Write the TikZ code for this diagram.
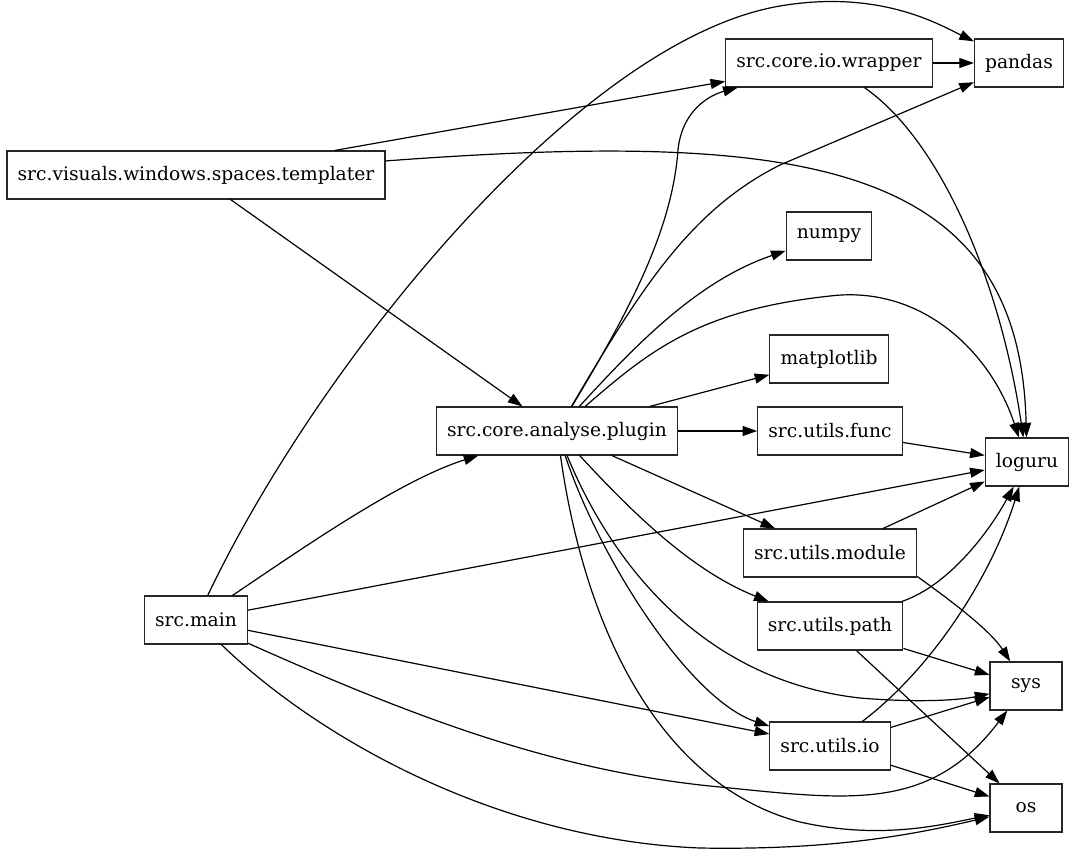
\documentclass[tikz,border=0pt]{standalone}
\usepackage{fontspec}
\setmainfont{DejaVu Serif}
\usetikzlibrary{arrows.meta}
\tikzset{
  dep/.style={-{Triangle[length=11pt,width=7.5pt]},black,line width=0.9pt},
  pkg/.style={draw=black!85,line width=0.8pt,fill=white,minimum height=36pt,
              minimum width=54pt,inner xsep=8pt,font=\fontsize{14}{17}\selectfont},
}
\begin{document}
\begin{tikzpicture}[x=0.75pt,y=-0.75pt]
    \useasboundingbox (0,0) rectangle (1077,854);
    % modules
    \node[pkg] (tmpl) at (196,175) {src.visuals.windows.spaces.templater};
    \node[pkg] (main) at (196,620) {src.main};
    \node[pkg] (plugin) at (557,431) {src.core.analyse.plugin};
    \node[pkg] (wrapper) at (829,63) {src.core.io.wrapper};
    \node[pkg] (numpy) at (829,236) {numpy};
    \node[pkg] (mpl) at (829,359) {matplotlib};
    \node[pkg] (ufunc) at (830,431) {src.utils.func};
    \node[pkg] (umodule) at (830,553) {src.utils.module};
    \node[pkg] (upath) at (830,626) {src.utils.path};
    \node[pkg] (uio) at (830,746) {src.utils.io};
    \node[pkg] (pandas) at (1019,63) {pandas};
    \node[pkg] (loguru) at (1027,462) {loguru};
    \node[pkg] (sys) at (1026,686) {sys};
    \node[pkg] (os) at (1026,808) {os};

    % templater
    \draw[dep] (tmpl) -- (wrapper);
    \draw[dep] (tmpl) .. controls (800,130) and (1020,160) .. (loguru);
    \draw[dep] (tmpl) -- (plugin);

    % main
    \draw[dep] (main) .. controls (320,360) and (580,40) .. (780,6)
      .. controls (880,-11) and (940,25) .. (pandas);
    \draw[dep] (main) .. controls (300,550) and (400,480) .. (plugin);
    \draw[dep] (main) -- (loguru);
    \draw[dep] (main) -- (uio);
    \draw[dep] (main) .. controls (420,720) and (560,772) .. (720,787)
      .. controls (850,800) and (930,812) .. (sys);
    \draw[dep] (main) .. controls (320,740) and (500,840) .. (700,848)
      .. controls (820,850) and (900,838) .. (os);

    % plugin
    \draw[dep] (plugin) .. controls (630,310) and (672,230) .. (678,150)
      .. controls (682,110) and (710,95) .. (wrapper);
    \draw[dep] (plugin) .. controls (640,290) and (690,210) .. (780,165) -- (pandas);
    \draw[dep] (plugin) .. controls (640,340) and (700,280) .. (numpy);
    \draw[dep] (plugin) .. controls (650,350) and (700,310) .. (830,296)
      .. controls (920,285) and (990,350) .. (loguru);
    \draw[dep] (plugin) -- (mpl);
    \draw[dep] (plugin) -- (ufunc);
    \draw[dep] (plugin) -- (umodule);
    \draw[dep] (plugin) .. controls (630,510) and (690,570) .. (upath);
    \draw[dep] (plugin) .. controls (610,560) and (700,680) .. (860,698)
      .. controls (920,703) and (960,700) .. (sys);
    \draw[dep] (plugin) .. controls (600,560) and (690,700) .. (uio);
    \draw[dep] (plugin) .. controls (585,630) and (660,785) .. (800,822)
      .. controls (880,840) and (940,825) .. (os);

    % utils
    \draw[dep] (wrapper) -- (pandas);
    \draw[dep] (wrapper) .. controls (940,140) and (1000,280) .. (loguru);
    \draw[dep] (ufunc) -- (loguru);
    \draw[dep] (umodule) -- (loguru);
    \draw[dep] (umodule.-15) .. controls (950,600) and (990,630) .. (sys);
    \draw[dep] (upath) .. controls (950,585) and (990,530) .. (loguru);
    \draw[dep] (upath) -- (sys);
    \draw[dep] (upath) -- (os);
    \draw[dep] (uio) .. controls (930,670) and (990,580) .. (loguru);
    \draw[dep] (uio) -- (sys);
    \draw[dep] (uio) -- (os);
\end{tikzpicture}
\end{document}
